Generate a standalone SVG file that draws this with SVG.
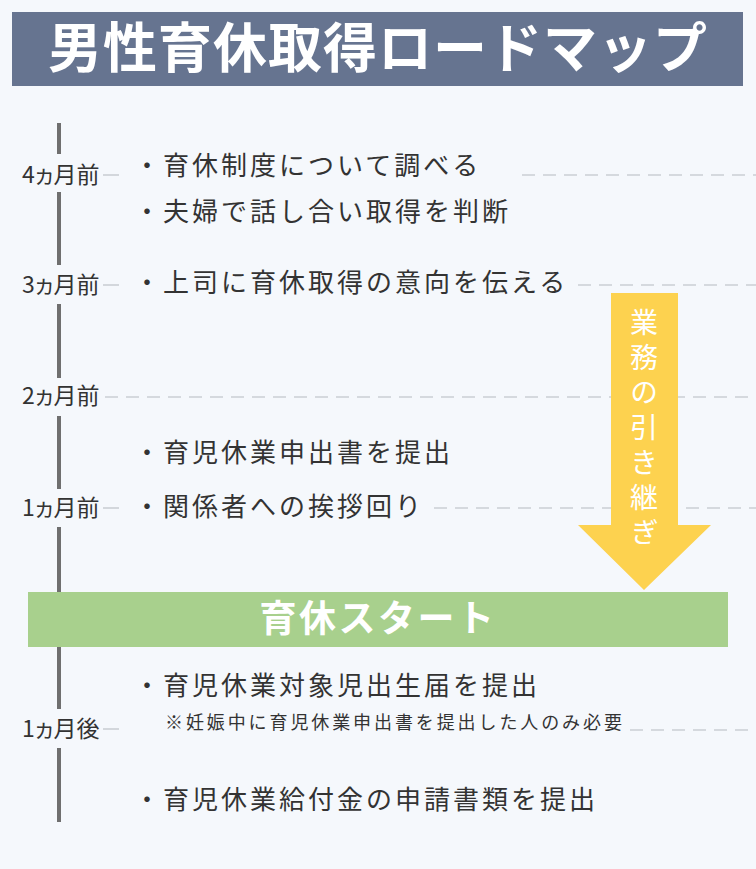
<svg xmlns="http://www.w3.org/2000/svg" width="756" height="869" viewBox="0 0 756 869">
<style>
.t{font-family:"Noto Sans CJK JP","Noto Sans",sans-serif}
.title{font-size:54px;font-weight:700;fill:#fff;letter-spacing:1px}
.lbl{font-size:23px;fill:#333;font-feature-settings:"palt"}
.item{font-size:26px;fill:#333;letter-spacing:3px}
.note{font-size:18px;fill:#333;letter-spacing:2.9px}
.tl{stroke:#6f6f6f;stroke-width:4}
.tick{stroke:#d3d7dc;stroke-width:2}
.dash{stroke:#d5d9de;stroke-width:2;stroke-dasharray:13 8}
</style>
<rect width="756" height="869" fill="#f5f8fc"/>
<g id="title">
<rect x="12" y="12" width="731" height="74" fill="#667490"/>
<text class="t title" x="378" y="68" text-anchor="middle">男性育休取得ロードマップ</text>
</g>
<g id="connectors">
<line class="dash" x1="522" y1="175" x2="756" y2="175"/>
<line class="dash" x1="578" y1="285" x2="756" y2="285"/>
<line class="dash" x1="105" y1="397" x2="756" y2="397"/>
<line class="dash" x1="434" y1="508" x2="756" y2="508"/>
<line class="dash" x1="630" y1="730" x2="756" y2="730"/>
<line class="tick" x1="103" y1="175" x2="119" y2="175"/>
<line class="tick" x1="103" y1="285" x2="119" y2="285"/>
<line class="tick" x1="103" y1="508" x2="119" y2="508"/>
<line class="tick" x1="103" y1="729" x2="119" y2="729"/>
<g id="timeline">
<line class="tl" x1="59" y1="123" x2="59" y2="154"/>
<line class="tl" x1="59" y1="192" x2="59" y2="265"/>
<line class="tl" x1="59" y1="304" x2="59" y2="378"/>
<line class="tl" x1="59" y1="416" x2="59" y2="489"/>
<line class="tl" x1="59" y1="527" x2="59" y2="600"/>
<line class="tl" x1="59" y1="640" x2="59" y2="709"/>
<line class="tl" x1="59" y1="748" x2="59" y2="822"/>
</g>
</g>
<g id="labels">
<text class="t lbl" x="22" y="183">4ヵ月前</text>
<text class="t lbl" x="22" y="293">3ヵ月前</text>
<text class="t lbl" x="22" y="404">2ヵ月前</text>
<text class="t lbl" x="22" y="516">1ヵ月前</text>
<text class="t lbl" x="22" y="737">1ヵ月後</text>
</g>
<g id="items">
<text class="t item" x="134" y="175">・育休制度について調べる</text>
<text class="t item" x="134" y="221">・夫婦で話し合い取得を判断</text>
<text class="t item" x="134" y="292">・上司に育休取得の意向を伝える</text>
<text class="t item" x="134" y="462">・育児休業申出書を提出</text>
<text class="t item" x="134" y="516">・関係者への挨拶回り</text>
<text class="t item" x="134" y="695">・育児休業対象児出生届を提出</text>
<text class="t note" x="165" y="729">※妊娠中に育児休業申出書を提出した人のみ必要</text>
<text class="t item" x="134" y="809">・育児休業給付金の申請書類を提出</text>
</g>
<g id="handover">
<polygon points="611,293 678,293 678,525 711,525 644,590 578,525 611,525" fill="#fdd24f"/>
<text class="t" x="644" y="308" font-size="28" fill="#fff" writing-mode="vertical-rl" letter-spacing="7">業務の引き継ぎ</text>
</g>
<g id="start">
<rect x="28" y="592" width="700" height="55" fill="#a8d08d"/>
<text class="t" x="378" y="632" font-size="37" font-weight="700" fill="#fff" letter-spacing="2.5" text-anchor="middle">育休スタート</text>
</g>
</svg>
